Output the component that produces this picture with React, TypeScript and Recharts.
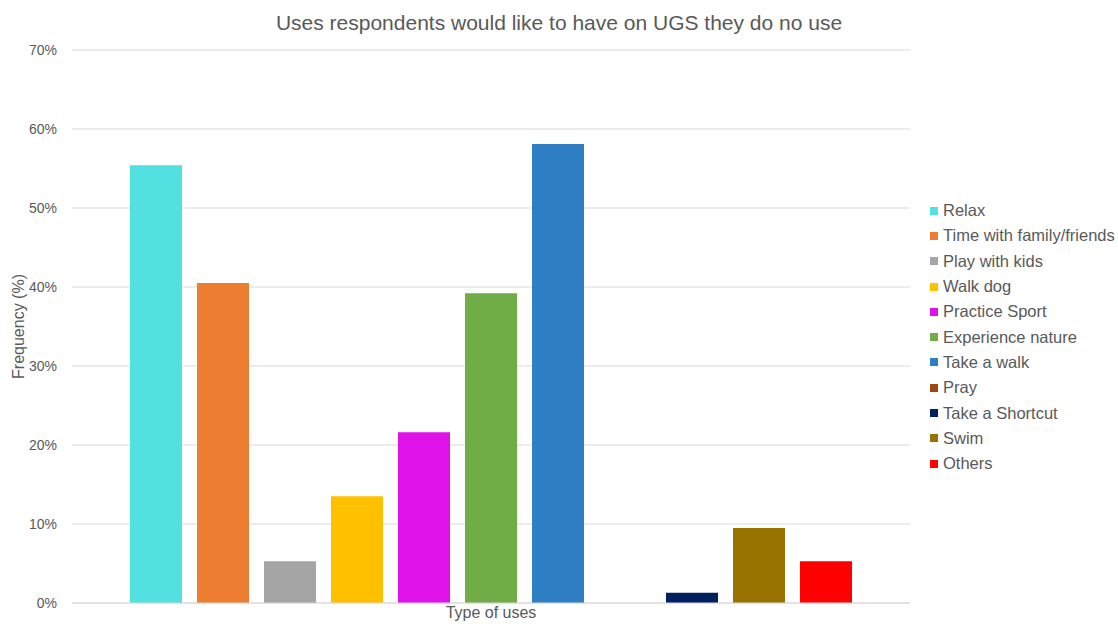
import React from "react";
import { BarChart, Bar, XAxis, YAxis, CartesianGrid } from "recharts";

const categories = ["Type of uses"];
const seriesNames = [
  "Relax",
  "Time with family/friends",
  "Play with kids",
  "Walk dog",
  "Practice Sport",
  "Experience nature",
  "Take a walk",
  "Pray",
  "Take a Shortcut",
  "Swim",
  "Others",
];
const seriesValues = [55.4, 40.5, 5.3, 13.5, 21.6, 39.2, 58.1, 0, 1.3, 9.5, 5.3];
const seriesColors = [
  "#53e0e0",
  "#ed7d31",
  "#a5a5a5",
  "#ffc000",
  "#e012ea",
  "#70ad47",
  "#2e7ec4",
  "#9e480e",
  "#002060",
  "#997300",
  "#ff0000",
];
const yTicks = [0, 10, 20, 30, 40, 50, 60, 70];

const data = categories.map((c) => {
  const row: Record<string, number | string> = { name: c };
  seriesNames.forEach((s, i) => {
    row["s" + i] = seriesValues[i];
  });
  return row;
});

const FONT = "'Liberation Sans', Arial, sans-serif";
const TXT = "#595959";

export default function App() {
  return (
    <div style={{ position: "absolute", left: 0, top: 0, width: 1118, height: 624, background: "#fff", fontFamily: FONT }}>
      <div
        style={{
          position: "absolute",
          left: 0,
          width: 1118,
          top: 10,
          textAlign: "center",
          fontSize: 21,
          lineHeight: "26px",
          color: TXT,
        }}
      >
        Uses respondents would like to have on UGS they do no use
      </div>
      <BarChart
        width={1118}
        height={624}
        data={data}
        margin={{ top: 50, right: 208, left: 0, bottom: 0 }}
        barCategoryGap={58}
        barGap={15}
        style={{ fontFamily: FONT }}
      >
        <CartesianGrid vertical={false} stroke="#d9d9d9" />
        <XAxis
          dataKey="name"
          height={21}
          tickLine={false}
          tickSize={0}
          tickMargin={4}
          axisLine={{ stroke: "#d9d9d9" }}
          tick={{ fill: TXT, fontSize: 16 }}
        />
        <YAxis
          width={72}
          domain={[0, 70]}
          ticks={yTicks}
          tickFormatter={(v: number) => `${v}%`}
          axisLine={false}
          tickLine={false}
          tickSize={0}
          tickMargin={15}
          tick={{ fill: TXT, fontSize: 14 }}
          label={{
            value: "Frequency (%)",
            angle: -90,
            position: "insideLeft",
            offset: 18,
            style: { fill: TXT, fontSize: 16, textAnchor: "middle" },
          }}
        />
        {seriesNames.map((s, i) => (
          <Bar key={s} dataKey={"s" + i} name={s} fill={seriesColors[i]} isAnimationActive={false} />
        ))}
      </BarChart>
      <div style={{ position: "absolute", left: 930, top: 198 }}>
        {seriesNames.map((s, i) => (
          <div
            key={s}
            style={{ display: "flex", alignItems: "center", height: 25.3, fontSize: 16.5, color: TXT, whiteSpace: "nowrap" }}
          >
            <span
              style={{
                display: "inline-block",
                width: 8,
                height: 8,
                background: seriesColors[i],
                marginRight: 5,
              }}
            />
            <span>{s}</span>
          </div>
        ))}
      </div>
    </div>
  );
}
